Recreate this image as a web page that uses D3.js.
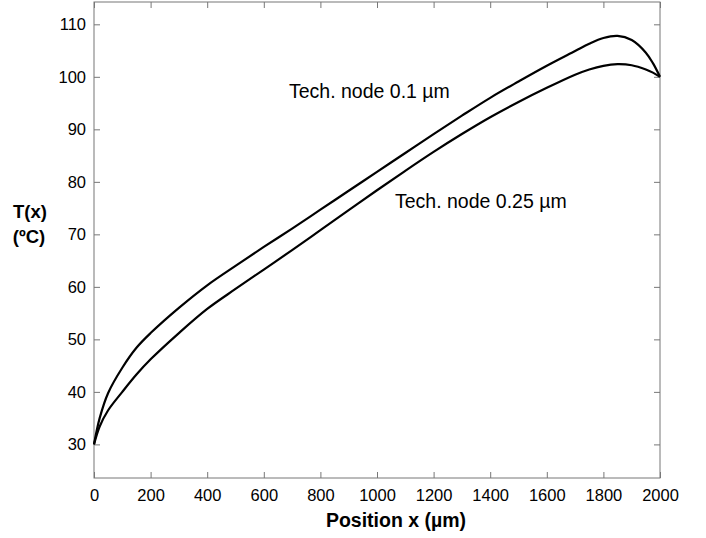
<!DOCTYPE html>
<html>
<head>
<meta charset="utf-8">
<script src="https://cdn.jsdelivr.net/npm/d3@7"></script>
<style>
  body { margin: 0; background: #fff; }
  text { font-family: "Liberation Sans", Arial, sans-serif; fill: #000; }
</style>
</head>
<body>
<svg id="chart" width="706" height="538"></svg>
<script>
// positions along the line (um)
var posX = [0, 20, 50, 100, 150, 200, 300, 400, 500, 600, 700, 800, 900, 1000, 1100, 1200,
            1300, 1400, 1500, 1600, 1700, 1750, 1800, 1850, 1900, 1950, 1975, 2000];
// T(x) for 0.1 um node
var tNode01 = [30, 35.0, 39.8, 44.6, 48.4, 51.2, 56.0, 60.3, 64.0, 67.6, 71.1, 74.7, 78.3, 81.9, 85.5, 89.1,
               92.6, 96.0, 99.1, 102.1, 104.9, 106.3, 107.4, 107.8, 107.0, 104.6, 102.6, 100];
// T(x) for 0.25 um node
var tNode025 = [30, 33.4, 36.5, 40.0, 43.3, 46.2, 51.2, 55.8, 59.6, 63.3, 67.0, 70.8, 74.6, 78.4, 82.1, 85.7,
                89.1, 92.3, 95.2, 97.9, 100.4, 101.4, 102.1, 102.4, 102.2, 101.4, 100.8, 100];
var xTicks = [0, 200, 400, 600, 800, 1000, 1200, 1400, 1600, 1800, 2000];
var yTicks = [30, 40, 50, 60, 70, 80, 90, 100, 110];

var svg = d3.select("#chart");
var mLeft = 94, mRight = 660, mTop = 2, mBottom = 478;

var x = d3.scaleLinear().domain([0, 2000]).range([mLeft, mRight]);
var y = d3.scaleLinear().domain([23.6, 114.25]).range([mBottom, mTop]);

// frame
svg.append("rect").attr("x", mLeft).attr("y", mTop).attr("width", mRight - mLeft).attr("height", mBottom - mTop)
   .attr("fill", "none").attr("stroke", "#777").attr("stroke-width", 1);

// axes, ticks pointing inside
var xa = svg.append("g").attr("transform", "translate(0," + mBottom + ")")
   .call(d3.axisBottom(x).tickValues(xTicks).tickSizeInner(-6).tickSizeOuter(0).tickPadding(11).tickFormat(d3.format("d")));
var xt = svg.append("g").attr("transform", "translate(0," + mTop + ")")
   .call(d3.axisTop(x).tickValues(xTicks).tickSizeInner(-6).tickSizeOuter(0).tickFormat(""));
var ya = svg.append("g").attr("transform", "translate(" + mLeft + ",0)")
   .call(d3.axisLeft(y).tickValues(yTicks).tickSizeInner(-6).tickSizeOuter(0).tickPadding(8).tickFormat(d3.format("d")));
var yr = svg.append("g").attr("transform", "translate(" + mRight + ",0)")
   .call(d3.axisRight(y).tickValues(yTicks).tickSizeInner(-6).tickSizeOuter(0).tickFormat(""));

[xa, xt, ya, yr].forEach(function(g){
  g.select(".domain").remove();
  g.selectAll("line").attr("stroke", "#777");
  g.attr("font-size", 16).attr("font-family", "Liberation Sans, Arial, sans-serif");
  g.selectAll("text").style("font-size", "16.5px");
});

// curves
var line = d3.line().x(function(d){ return x(d[0]); }).y(function(d){ return y(d[1]); })
   .curve(d3.curveCatmullRom.alpha(0.5));
[tNode01, tNode025].forEach(function(s){
  svg.append("path").datum(posX.map(function(p, i){ return [p, s[i]]; }))
     .attr("d", line).attr("fill", "none").attr("stroke", "#000").attr("stroke-width", 2.2);
});

// labels
svg.append("text").attr("x", 289).attr("y", 98).style("font-size", "19.5px").text("Tech. node 0.1 µm");
svg.append("text").attr("x", 395).attr("y", 208).style("font-size", "19.5px").text("Tech. node 0.25 µm");

svg.append("text").attr("x", 396).attr("y", 527).attr("text-anchor", "middle")
   .style("font-size", "19.5px").style("font-weight", "bold").text("Position x (µm)");
svg.append("text").attr("x", 30).attr("y", 218).attr("text-anchor", "middle")
   .style("font-size", "18.5px").style("font-weight", "bold").text("T(x)");
svg.append("text").attr("x", 29).attr("y", 243).attr("text-anchor", "middle")
   .style("font-size", "18.5px").style("font-weight", "bold").text("(ºC)");
</script>
</body>
</html>
